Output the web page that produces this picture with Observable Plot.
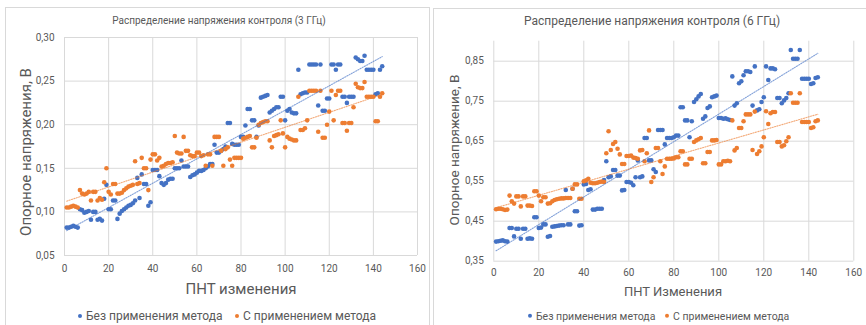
<!DOCTYPE html>
<html><head><meta charset="utf-8">
<script src="https://cdn.jsdelivr.net/npm/d3@7"></script>
<script src="https://cdn.jsdelivr.net/npm/@observablehq/plot@0.6"></script>
<style>
body{margin:0;background:#fff;width:866px;height:325px;overflow:hidden;position:relative;font-family:Roboto,"Noto Sans",sans-serif;color:#595959}
.panel{position:absolute;border:1px solid #d9d9d9;box-sizing:border-box;background:#fff}
.abs{position:absolute;white-space:nowrap;line-height:1}
.c{transform:translate(-50%,-50%)}
.rot{transform:translate(-50%,-50%) rotate(-90deg)}
.leg{position:absolute;white-space:nowrap;line-height:1;transform:translateY(-50%)}
.mk{display:inline-block;width:4px;height:4px;border-radius:50%;vertical-align:middle;margin-right:4px;position:relative;top:-1px}
.svgwrap{position:absolute;top:0}
</style></head><body>
<div class="panel" style="left:5px;top:7px;width:425px;height:330px"></div>
<div class="panel" style="left:433px;top:8px;width:445px;height:330px"></div>
<div id="c1" class="svgwrap" style="left:0"></div>
<div id="c2" class="svgwrap" style="left:433px"></div>
<div class="abs c" style="left:219px;top:21px;font-size:10px">Распределение напряжения контроля (3 ГГц)</div>
<div class="abs c" style="left:652px;top:21px;font-size:12px">Распределение напряжения контроля (6 ГГц)</div>
<div class="abs rot" style="left:26px;top:152px;font-size:15px">Опорное напряжения, В</div>
<div class="abs rot" style="left:455px;top:150px;font-size:13.5px">Опорное напряжение, В</div>
<div class="abs c" style="left:241px;top:289px;font-size:15px">ПНТ изменения</div>
<div class="abs c" style="left:673px;top:291px;font-size:13px">ПНТ Изменения</div>
<div class="leg" style="left:78px;top:316px;font-size:12px"><span class="mk" style="background:#4472C4"></span>Без применения метода</div>
<div class="leg" style="left:235px;top:316px;font-size:12px"><span class="mk" style="background:#ED7D31"></span>С применением метода</div>
<div class="leg" style="left:528px;top:317px;font-size:10.5px"><span class="mk" style="background:#4472C4"></span>Без применения метода</div>
<div class="leg" style="left:665px;top:317px;font-size:10.5px"><span class="mk" style="background:#ED7D31"></span>С применением метода</div>
<script>
// x positions: ПНТ изменения 1..144
const seriesNames = ["Без применения метода", "С применением метода"];
const colors = ["#4472C4", "#ED7D31"];
const xTicks = [0, 20, 40, 60, 80, 100, 120, 140, 160];
const yTicks3 = [0.05, 0.10, 0.15, 0.20, 0.25, 0.30];
const yTicks6 = [0.35, 0.45, 0.55, 0.65, 0.75, 0.85];

const blue3 = [
0.082,0.082,0.083,0.084,0.083,0.082,0.103,0.102,0.099,0.100,
0.101,0.091,0.100,0.100,0.091,0.092,0.090,0.115,0.131,0.103,
0.103,0.113,0.113,0.092,0.098,0.101,0.103,0.105,0.107,0.108,
0.110,0.113,0.139,0.116,0.143,0.132,0.132,0.107,0.111,0.148,
0.148,0.148,0.141,0.133,0.131,0.133,0.137,0.138,0.138,0.150,
0.150,0.150,0.159,0.152,0.152,0.152,0.140,0.142,0.143,0.145,
0.147,0.147,0.148,0.150,0.152,0.155,0.155,0.177,0.168,0.168,
0.170,0.172,0.175,0.202,0.202,0.178,0.177,0.177,0.177,0.186,
0.186,0.199,0.218,0.218,0.205,0.205,0.186,0.199,0.231,0.232,
0.233,0.234,0.214,0.216,0.218,0.220,0.220,0.232,0.232,0.205,
0.216,0.218,0.214,0.213,0.213,0.263,0.235,0.236,0.237,0.237,
0.269,0.269,0.269,0.269,0.222,0.269,0.216,0.216,0.230,0.230,
0.269,0.269,0.263,0.269,0.269,0.232,0.232,0.225,0.232,0.232,
0.232,0.277,0.275,0.273,0.273,0.279,0.263,0.263,0.263,0.263,
0.235,0.236,0.263,0.267];
const orange3 = [
0.105,0.105,0.106,0.107,0.106,0.105,0.125,0.121,0.120,0.121,
0.123,0.113,0.123,0.123,0.113,0.116,0.114,0.134,0.150,0.123,
0.120,0.132,0.132,0.121,0.121,0.122,0.125,0.127,0.129,0.130,
0.131,0.158,0.132,0.133,0.162,0.150,0.150,0.125,0.160,0.166,
0.166,0.159,0.162,0.152,0.153,0.155,0.156,0.156,0.157,0.187,
0.168,0.167,0.167,0.186,0.170,0.170,0.165,0.164,0.164,0.168,
0.168,0.164,0.165,0.153,0.166,0.166,0.153,0.186,0.186,0.186,
0.170,0.153,0.172,0.174,0.160,0.153,0.162,0.162,0.162,0.162,
0.184,0.185,0.186,0.187,0.174,0.174,0.185,0.200,0.202,0.203,
0.204,0.204,0.182,0.174,0.187,0.188,0.189,0.205,0.190,0.174,
0.186,0.184,0.183,0.182,0.182,0.232,0.194,0.194,0.196,0.205,
0.239,0.239,0.239,0.239,0.192,0.239,0.185,0.185,0.200,0.215,
0.239,0.205,0.234,0.239,0.239,0.202,0.202,0.193,0.202,0.202,
0.220,0.247,0.243,0.242,0.242,0.249,0.232,0.232,0.232,0.232,
0.204,0.204,0.232,0.236];
const blue6 = [
0.399,0.400,0.401,0.402,0.400,0.399,0.433,0.433,0.412,0.431,
0.431,0.406,0.431,0.431,0.406,0.407,0.406,0.460,0.460,0.433,
0.434,0.442,0.442,0.411,0.413,0.436,0.437,0.438,0.439,0.440,
0.440,0.528,0.442,0.442,0.531,0.475,0.475,0.439,0.440,0.542,
0.543,0.528,0.530,0.479,0.479,0.481,0.481,0.481,0.553,0.600,
0.560,0.562,0.578,0.578,0.564,0.564,0.527,0.528,0.548,0.548,
0.546,0.540,0.560,0.602,0.560,0.562,0.658,0.658,0.602,0.602,
0.580,0.573,0.678,0.678,0.678,0.642,0.658,0.658,0.658,0.660,
0.664,0.664,0.735,0.735,0.702,0.702,0.660,0.700,0.748,0.755,
0.762,0.768,0.706,0.712,0.733,0.737,0.760,0.762,0.764,0.708,
0.708,0.706,0.707,0.705,0.703,0.812,0.739,0.745,0.795,0.800,
0.815,0.825,0.825,0.823,0.739,0.837,0.727,0.730,0.748,0.760,
0.837,0.803,0.832,0.832,0.830,0.758,0.758,0.745,0.752,0.758,
0.770,0.878,0.856,0.856,0.856,0.878,0.806,0.806,0.806,0.806,
0.793,0.795,0.808,0.810];
const orange6 = [
0.480,0.481,0.481,0.480,0.478,0.479,0.514,0.500,0.494,0.512,
0.512,0.487,0.512,0.512,0.489,0.489,0.488,0.525,0.525,0.514,
0.500,0.510,0.510,0.494,0.495,0.500,0.503,0.505,0.506,0.507,
0.507,0.508,0.508,0.508,0.531,0.542,0.542,0.506,0.506,0.550,
0.552,0.556,0.546,0.545,0.545,0.546,0.548,0.549,0.548,0.620,
0.675,0.628,0.643,0.648,0.631,0.617,0.593,0.593,0.613,0.613,
0.614,0.609,0.608,0.606,0.627,0.628,0.600,0.620,0.677,0.548,
0.560,0.633,0.633,0.600,0.568,0.587,0.606,0.606,0.606,0.607,
0.610,0.610,0.625,0.625,0.592,0.592,0.606,0.606,0.648,0.652,
0.655,0.658,0.595,0.595,0.623,0.623,0.652,0.652,0.653,0.592,
0.592,0.600,0.600,0.601,0.600,0.702,0.627,0.633,0.683,0.683,
0.700,0.717,0.717,0.717,0.628,0.724,0.618,0.625,0.637,0.660,
0.725,0.693,0.720,0.723,0.723,0.648,0.648,0.637,0.640,0.650,
0.660,0.770,0.746,0.746,0.746,0.770,0.698,0.698,0.698,0.698,
0.683,0.685,0.700,0.702];

const fmt = d => d.toFixed(2).replace(".", ",");
const rows = arr => arr.map((v, i) => ({x: i + 1, v}));

function chart({width, height, mL, mR, mT, mB, yDomain, yTicks, blue, orange, padX}) {
  const b = rows(blue), o = rows(orange);
  return Plot.plot({
    width, height, marginLeft: mL, marginRight: mR, marginTop: mT, marginBottom: mB,
    x: {domain: [0, 160]},
    y: {domain: yDomain},
    style: {fontFamily: "Roboto, 'Noto Sans', sans-serif", fontSize: "10px", color: "#595959", background: "transparent", overflow: "visible"},
    marks: [
      Plot.gridX(xTicks, {stroke: "#d9d9d9", strokeOpacity: 1}),
      Plot.gridY(yTicks, {stroke: "#d9d9d9", strokeOpacity: 1}),
      Plot.axisX(xTicks, {tickSize: 0, tickPadding: padX, tickFormat: d => String(d), label: null}),
      Plot.axisY(yTicks, {tickSize: 0, tickPadding: 10, tickFormat: fmt, label: null}),
      Plot.dot(b, {x: "x", y: "v", r: 2.3, fill: colors[0], stroke: "none"}),
      Plot.dot(o, {x: "x", y: "v", r: 2.3, fill: colors[1], stroke: "none"}),
      Plot.linearRegressionY(b, {x: "x", y: "v", stroke: colors[0], ci: 0, strokeWidth: 1.1, strokeDasharray: "1.2,1.3", strokeOpacity: 0.65}),
      Plot.linearRegressionY(o, {x: "x", y: "v", stroke: colors[1], ci: 0, strokeWidth: 1.1, strokeDasharray: "1.2,1.3", strokeOpacity: 0.65})
    ]
  });
}

document.getElementById("c1").append(chart({
  width: 430, height: 300, mL: 64, mR: 13, mT: 37, mB: 45,
  yDomain: [0.05, 0.30], yTicks: yTicks3, blue: blue3, orange: orange3, padX: 9
}));
document.getElementById("c2").append(chart({
  width: 433, height: 300, mL: 60.3, mR: 12.7, mT: 40.7, mB: 39.3,
  yDomain: [0.35, 0.90], yTicks: yTicks6, blue: blue6, orange: orange6, padX: 8
}));
</script>
</body></html>
